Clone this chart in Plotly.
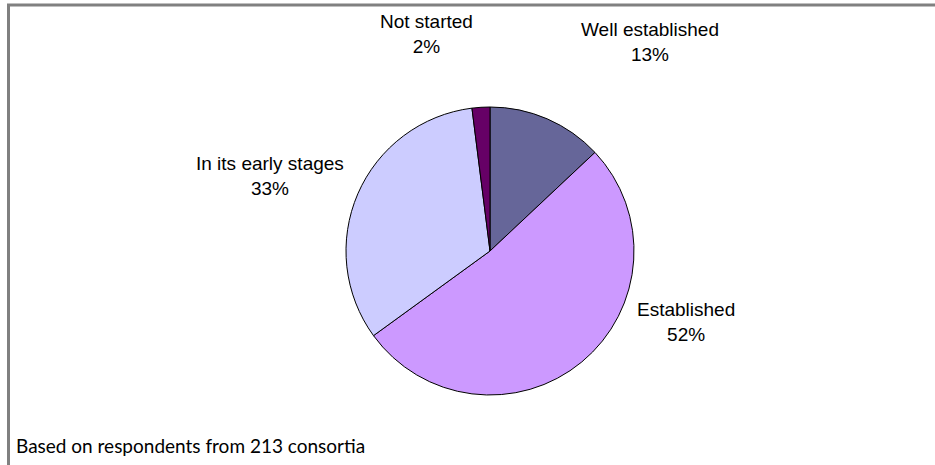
import plotly.graph_objects as go

# Stage of development reported by consortium respondents
stages = ["Well established", "Established", "In its early stages", "Not started"]
shares = [13, 52, 33, 2]
slice_colors = ["#666699", "#CC99FF", "#CCCCFF", "#660066"]
footnote = "Based on respondents from 213 consortia"

W, H = 935, 465

# Label anchor points in pixels (x, y of the two-line block centre)
label_pos = [(650, 42), (686, 322), (270, 176), (426, 34)]

# Pie placement in pixels
cx, cy, r = 490, 251, 144

fig = go.Figure(
    go.Pie(
        labels=stages,
        values=shares,
        sort=False,
        direction="clockwise",
        rotation=0,
        textinfo="none",
        hoverinfo="label+percent",
        marker=dict(colors=slice_colors, line=dict(color="black", width=1)),
        domain=dict(
            x=[(cx - r) / W, (cx + r) / W],
            y=[1 - (cy + r) / H, 1 - (cy - r) / H],
        ),
        showlegend=False,
    )
)

annotations = []
for name, val, (px, py) in zip(stages, shares, label_pos):
    annotations.append(
        dict(
            text=f"{name}<br>{val}%",
            x=px / W,
            y=1 - py / H,
            xref="paper",
            yref="paper",
            xanchor="center",
            yanchor="middle",
            showarrow=False,
            align="center",
            font=dict(family="Liberation Sans, Arial, sans-serif", size=19, color="black"),
        )
    )

annotations.append(
    dict(
        text=footnote,
        x=14 / W,
        y=1 - 445 / H,
        xref="paper",
        yref="paper",
        xanchor="left",
        yanchor="middle",
        showarrow=False,
        font=dict(family="Lato, sans-serif", size=19, color="black"),
    )
)

# Grey frame along the top and left edges
shapes = [
    dict(type="line", xref="paper", yref="paper",
         x0=7 / W, x1=1, y0=1 - 5 / H, y1=1 - 5 / H,
         line=dict(color="#808080", width=3)),
    dict(type="line", xref="paper", yref="paper",
         x0=8.5 / W, x1=8.5 / W, y0=0, y1=1 - 4 / H,
         line=dict(color="#808080", width=3)),
]

fig.update_layout(
    width=W,
    height=H,
    margin=dict(l=0, r=0, t=0, b=0),
    paper_bgcolor="white",
    plot_bgcolor="white",
    annotations=annotations,
    shapes=shapes,
)

fig.write_html("out.html")
